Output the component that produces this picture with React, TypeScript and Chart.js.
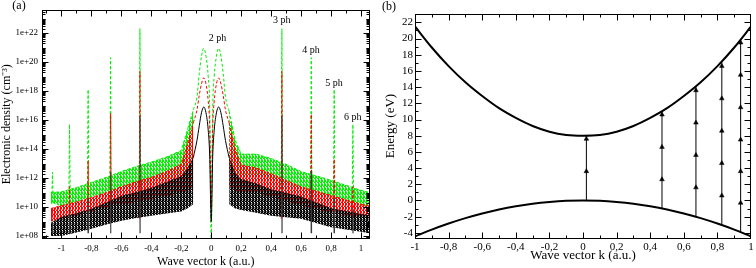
import React, { useEffect, useRef } from "react";
import { Chart, registerables } from "chart.js";

Chart.register(...registerables);

const SERIF = '"Liberation Serif", "Times New Roman", serif';

// ---------------- Panel (a): electronic density (log10 of cm^-3) vs k ----------------
const densityTickK = [-1, -0.8, -0.6, -0.4, -0.2, 0, 0.2, 0.4, 0.6, 0.8, 1];
const densityTickExp = [8, 10, 12, 14, 16, 18, 20, 22];

const bandKLeft = [-1.07, -1.0, -0.9, -0.8, -0.7, -0.6, -0.5, -0.4, -0.3, -0.2, -0.16, -0.12];
const greenTopLeft = [11.0, 11.05, 11.35, 11.7, 12.05, 12.45, 12.8, 13.1, 13.45, 13.9, 15.3, 16.7];
const greenBottomLeft = [10.3, 10.05, 10.35, 10.7, 11.0, 11.3, 11.5, 11.75, 11.95, 12.1, 12.3, 12.7];
const redTopLeft = [9.9, 10.1, 10.35, 10.65, 11.0, 11.4, 11.75, 12.05, 12.45, 12.95, 14.3, 15.8];
const redBottomLeft = [9.0, 9.2, 9.4, 9.7, 9.95, 10.2, 10.35, 10.55, 10.75, 11.0, 11.1, 11.3];
const blackTopLeft = [8.9, 9.3, 9.55, 9.85, 10.3, 10.75, 11.0, 11.3, 11.7, 12.1, 12.6, 13.4];
const blackBottomLeft = [8.0, 8.0, 8.25, 8.5, 8.8, 9.05, 9.25, 9.4, 9.55, 9.7, 9.9, 10.2];

const bandKRight = [0.12, 0.16, 0.2, 0.3, 0.4, 0.5, 0.6, 0.7, 0.8, 0.9, 1.0, 1.06];
const greenTopRight = [16.6, 14.6, 13.65, 13.65, 13.35, 12.95, 12.45, 12.15, 11.85, 11.5, 11.15, 11.0];
const greenBottomRight = [12.7, 12.3, 12.2, 12.2, 12.0, 11.6, 11.3, 11.0, 10.7, 10.4, 10.1, 10.0];
const redTopRight = [15.8, 14.0, 12.9, 12.7, 12.3, 11.85, 11.4, 11.1, 10.8, 10.5, 10.2, 10.1];
const redBottomRight = [11.4, 11.1, 11.0, 11.0, 10.7, 10.4, 10.1, 9.85, 9.6, 9.45, 9.3, 9.2];
const blackTopRight = [13.4, 12.3, 11.9, 11.6, 11.2, 10.95, 10.7, 10.3, 9.9, 9.7, 9.5, 9.4];
const blackBottomRight = [10.2, 9.9, 9.8, 9.6, 9.4, 9.3, 9.2, 8.9, 8.6, 8.45, 8.3, 8.2];

const humpK = [-0.12, -0.095, -0.08, -0.065, -0.05, -0.035, -0.02, -0.01, 0, 0.01, 0.02, 0.035, 0.05, 0.065, 0.08, 0.095, 0.12];
const greenHump = [16.7, 17.6, 19.2, 20.4, 20.95, 20.4, 19.0, 16.8, 7.85, 16.8, 19.0, 20.4, 20.95, 20.4, 19.2, 17.6, 16.6];
const redHump = [15.8, 16.7, 17.7, 18.5, 18.9, 18.5, 17.3, 15.5, 10.0, 15.5, 17.3, 18.5, 18.9, 18.5, 17.7, 16.7, 15.8];
const blackHump = [13.4, 14.6, 15.6, 16.5, 16.9, 16.5, 15.3, 13.5, 9.0, 13.5, 15.3, 16.5, 16.9, 16.5, 15.6, 14.6, 13.4];

const spikeK = [-1.06, -0.946, -0.822, -0.672, -0.476, 0.472, 0.668, 0.821, 0.946];
const greenSpikeTop = [12.4, 15.7, 18.1, 20.3, 22.3, 22.3, 20.3, 18.1, 15.7];
const redSpikeTop = [9.9, 11.4, 13.2, 16.45, 19.35, 19.35, 16.4, 13.3, 11.4];
const blackSpikeTop = [8.9, 9.9, 10.6, 12.4, 16.3, 16.3, 12.5, 10.6, 9.9];
const greenSpikeFloor = 10.2;
const redSpikeFloor = 9.2;
const blackSpikeFloor = 8.2;

const photonLabels = ["2 ph", "3 ph", "4 ph", "5 ph", "6 ph"];
const photonLabelK = [0.042, 0.471, 0.667, 0.82, 0.945];
const photonLabelExp = [21.63, 22.9, 20.83, 18.53, 16.19];

// ---------------- Panel (b): band structure ----------------
const energyTickK = [-1, -0.8, -0.6, -0.4, -0.2, 0, 0.2, 0.4, 0.6, 0.8, 1];
const energyTickE = [-4, -2, 0, 2, 4, 6, 8, 10, 12, 14, 16, 18, 20, 22];

const bandK = [-1, -0.9, -0.8, -0.7, -0.6, -0.5, -0.4, -0.3, -0.2, -0.1, 0, 0.1, 0.2, 0.3, 0.4, 0.5, 0.6, 0.7, 0.8, 0.9, 1];
const conductionE = [21.5, 18.9, 16.6, 14.6, 12.9, 11.4, 10.2, 9.2, 8.5, 8.1, 8.0, 8.1, 8.5, 9.2, 10.2, 11.4, 12.9, 14.6, 16.6, 18.9, 21.5];
const valenceE = [-4.45, -3.6, -2.85, -2.18, -1.6, -1.11, -0.71, -0.4, -0.18, -0.04, 0, -0.04, -0.18, -0.4, -0.71, -1.11, -1.6, -2.18, -2.85, -3.6, -4.45];

const arrowK = [0.02, 0.47, 0.672, 0.826, 0.938];
const arrowFromE = [0, -1.0, -2.0, -3.0, -3.9];
const arrowToE = [8.0, 11.0, 14.1, 17.1, 19.8];
const arrowHeadE = [
  [3.6, 7.6],
  [2.6, 6.6, 10.6],
  [1.6, 5.6, 9.6, 13.6],
  [0.6, 4.6, 8.6, 12.6, 16.6],
  [-0.3, 3.6, 7.5, 11.5, 15.5, 19.5],
];

// ---------------- helpers ----------------
const fmtK = (v: number) => {
  if (Math.abs(v) < 1e-9) return "0";
  if (Number.isInteger(v)) return String(v);
  return v.toFixed(1).replace(".", ",");
};

const logPts = (ks: number[], vals: number[]) => ks.map((k, i) => ({ x: k, y: Math.pow(10, vals[i]) }));

// texture imitating the dense oscillation lines of the bands
function stripePattern(color: string, cells: number[][]): any {
  const c = document.createElement("canvas");
  c.width = cells[0].length;
  c.height = cells.length;
  const g = c.getContext("2d") as CanvasRenderingContext2D;
  g.fillStyle = color;
  cells.forEach((row, y) =>
    row.forEach((a, x) => {
      if (a > 0) {
        g.globalAlpha = a;
        g.fillRect(x, y, 1, 1);
      }
    })
  );
  return g.createPattern(c, "repeat");
}

type TickSpec = { xMajor: number[]; xMinor: number[]; yMajor: number[]; yMinor: number[] };

function framePlugin(spec: TickSpec, majorLen: number, minorLen: number) {
  return {
    id: "frameTicks",
    afterDatasetsDraw(chart: any) {
      const { ctx, chartArea: a, scales } = chart;
      const xs = scales.x;
      const ys = scales.y;
      const L = Math.round(a.left) + 0.5;
      const R = Math.round(a.right) - 0.5;
      const T = Math.round(a.top) + 0.5;
      const B = Math.round(a.bottom) - 0.5;
      ctx.save();
      ctx.strokeStyle = "#000";
      ctx.lineWidth = 1;
      ctx.beginPath();
      const xt = (v: number, len: number) => {
        const p = Math.round(xs.getPixelForValue(v)) + 0.5;
        if (p < L - 0.1 || p > R + 0.1) return;
        ctx.moveTo(p, B);
        ctx.lineTo(p, B - len);
        ctx.moveTo(p, T);
        ctx.lineTo(p, T + len);
      };
      const yt = (v: number, len: number) => {
        const p = Math.round(ys.getPixelForValue(v)) + 0.5;
        if (p < T - 0.1 || p > B + 0.1) return;
        ctx.moveTo(L, p);
        ctx.lineTo(L + len, p);
        ctx.moveTo(R, p);
        ctx.lineTo(R - len, p);
      };
      spec.xMajor.forEach((v) => xt(v, majorLen));
      spec.xMinor.forEach((v) => xt(v, minorLen));
      spec.yMajor.forEach((v) => yt(v, majorLen));
      spec.yMinor.forEach((v) => yt(v, minorLen));
      ctx.stroke();
      ctx.strokeRect(L, T, R - L, B - T);
      ctx.restore();
    },
  };
}

function textPlugin(draw: (chart: any) => void) {
  return { id: "texts", afterDraw: draw };
}

// ---------------- chart configs ----------------
function densityConfig(): any {
  const GREEN = "#00ee00";
  const RED = "#ff0000";
  const BLACK = "#000000";
  const greenFill = stripePattern("#00f000", [
    [1, 1, 0],
    [1, 1, 0.4],
    [1, 0, 1],
    [1, 0.5, 0],
  ]);
  const redFill = stripePattern("#ff0000", [
    [1, 1, 0],
    [1, 0.5, 0.4],
    [1, 0, 1],
    [1, 1, 0],
  ]);
  const blackFill = stripePattern("#000000", [
    [1, 1, 0.3],
    [1, 0.6, 1],
    [1, 1, 0],
    [0.8, 1, 0.6],
  ]);
  const datasets: any[] = [];
  const band = (ks: number[], top: number[], bottom: number[], color: string, fillColor: any, dash: number[], order: number) => {
    datasets.push({
      data: logPts(ks, top),
      borderColor: color,
      borderWidth: 1,
      borderDash: dash,
      backgroundColor: fillColor,
      fill: "+1",
      pointRadius: 0,
      order,
    });
    datasets.push({ data: logPts(ks, bottom), borderColor: "rgba(0,0,0,0)", borderWidth: 0, pointRadius: 0, fill: false, order });
  };
  const hump = (vals: number[], color: string, dash: number[], order: number) => {
    datasets.push({
      data: logPts(humpK, vals),
      borderColor: color,
      borderWidth: 1,
      borderDash: dash,
      pointRadius: 0,
      fill: false,
      cubicInterpolationMode: "monotone",
      order,
    });
  };
  const spikes = (tops: number[], floor: number, color: string, dash: number[], hw: number, width: number, order: number) => {
    const d: any[] = [];
    spikeK.forEach((k, i) => {
      d.push({ x: k - hw, y: Math.pow(10, floor) });
      d.push({ x: k, y: Math.pow(10, tops[i]) });
      d.push({ x: k + hw, y: Math.pow(10, floor) });
      d.push({ x: k + hw, y: null });
    });
    datasets.push({ data: d, borderColor: color, borderWidth: width, borderDash: dash, pointRadius: 0, fill: false, spanGaps: false, order });
  };

  band(bandKLeft, greenTopLeft, greenBottomLeft, GREEN, greenFill, [3, 2], 9);
  band(bandKRight, greenTopRight, greenBottomRight, GREEN, greenFill, [3, 2], 9);
  hump(greenHump, GREEN, [3, 2], 8);
  spikes(greenSpikeTop, greenSpikeFloor, GREEN, [3, 2], 0.005, 1, 7);
  band(bandKLeft, redTopLeft, redBottomLeft, RED, redFill, [3, 2], 6);
  band(bandKRight, redTopRight, redBottomRight, RED, redFill, [3, 2], 6);
  hump(redHump, RED, [3, 2], 5);
  spikes(redSpikeTop, redSpikeFloor, RED, [3, 2], 0.004, 1, 4);
  band(bandKLeft, blackTopLeft, blackBottomLeft, "rgba(0,0,0,0.6)", blackFill, [], 3);
  band(bandKRight, blackTopRight, blackBottomRight, "rgba(0,0,0,0.6)", blackFill, [], 3);
  hump(blackHump, BLACK, [], 2);
  spikes(blackSpikeTop, blackSpikeFloor, "rgba(60,60,60,0.9)", [], 0.002, 0.8, 1);

  const xMinor: number[] = [];
  for (let i = -11; i <= 10; i++) if (i % 2 !== 0) xMinor.push(i / 10);
  const yMinor: number[] = [];
  for (let n = 7; n <= 23; n++) {
    for (let m = 1; m <= 9; m++) {
      if (m === 1 && n % 2 === 0) continue;
      yMinor.push(m * Math.pow(10, n));
    }
  }
  const yMajor = densityTickExp.map((e) => Math.pow(10, e));

  return {
    type: "line",
    data: { datasets },
    options: {
      animation: false,
      responsive: false,
      events: [],
      layout: { padding: { left: 0, right: 8.5, top: 10, bottom: 0 } },
      plugins: { legend: { display: false }, tooltip: { enabled: false } },
      scales: {
        x: {
          type: "linear",
          min: -1.13,
          max: 1.057,
          afterBuildTicks: (s: any) => {
            s.ticks = densityTickK.map((v) => ({ value: v }));
          },
          afterFit: (s: any) => {
            s.height = 29.5;
          },
          grid: { display: false, drawTicks: false },
          border: { display: false },
          ticks: {
            font: { family: SERIF, size: 9 },
            color: "#000",
            padding: 5,
            maxRotation: 0,
            minRotation: 0,
            autoSkip: false,
            callback: (v: any) => fmtK(Number(v)),
          },
          title: { display: true, text: "Wave vector k (a.u.)", font: { family: SERIF, size: 12, lineHeight: 1 }, color: "#000", padding: 0 },
        },
        y: {
          type: "logarithmic",
          min: Math.pow(10, 7.83),
          max: Math.pow(10, 23.59),
          afterBuildTicks: (s: any) => {
            s.ticks = yMajor.map((v) => ({ value: v }));
          },
          afterFit: (s: any) => {
            s.width = 42;
          },
          grid: { display: false, drawTicks: false },
          border: { display: false },
          ticks: {
            font: { family: SERIF, size: 9 },
            color: "#000",
            padding: 4,
            autoSkip: false,
            callback: (v: any) => {
              const e = Math.round(Math.log10(Number(v)));
              return "1e+" + String(e).padStart(2, "0");
            },
          },
          title: { display: true, text: "Electronic density (cm⁻³)", font: { family: SERIF, size: 12, lineHeight: 1 }, color: "#000", padding: 1 },
        },
      },
    },
    plugins: [
      framePlugin({ xMajor: densityTickK, xMinor, yMajor, yMinor }, 6, 3),
      textPlugin((chart: any) => {
        const { ctx, scales } = chart;
        ctx.save();
        ctx.fillStyle = "#000";
        ctx.textAlign = "center";
        ctx.textBaseline = "middle";
        ctx.font = `10px ${SERIF}`;
        photonLabels.forEach((t, i) => {
          ctx.fillText(t, scales.x.getPixelForValue(photonLabelK[i]), scales.y.getPixelForValue(Math.pow(10, photonLabelExp[i])));
        });
        ctx.font = `12px ${SERIF}`;
        ctx.fillText("(a)", 19, 6);
        ctx.restore();
      }),
    ],
  };
}

function energyConfig(): any {
  const arrows: any[] = [];
  arrowK.forEach((k, i) => {
    arrows.push({ x: k, y: arrowFromE[i] });
    arrows.push({ x: k, y: arrowToE[i] });
    arrows.push({ x: k, y: null });
  });
  const heads: any[] = [];
  arrowK.forEach((k, i) => arrowHeadE[i].forEach((e) => heads.push({ x: k, y: e })));

  const xMinor: number[] = [];
  for (let i = -9; i <= 9; i += 2) xMinor.push(i / 10);
  const yMinor: number[] = [];
  for (let e = -3; e <= 23; e += 2) yMinor.push(e);

  return {
    type: "line",
    data: {
      datasets: [
        { data: bandK.map((k, i) => ({ x: k, y: conductionE[i] })), borderColor: "#000", borderWidth: 2, pointRadius: 0, cubicInterpolationMode: "monotone", fill: false },
        { data: bandK.map((k, i) => ({ x: k, y: valenceE[i] })), borderColor: "#000", borderWidth: 2, pointRadius: 0, cubicInterpolationMode: "monotone", fill: false },
        { data: arrows, borderColor: "#000", borderWidth: 1, pointRadius: 0, spanGaps: false, fill: false },
        {
          data: heads,
          showLine: false,
          pointStyle: "triangle",
          pointRadius: 2.7,
          pointBackgroundColor: "#000",
          pointBorderColor: "#000",
          pointBorderWidth: 0.5,
        },
      ],
    },
    options: {
      animation: false,
      responsive: false,
      events: [],
      layout: { padding: { left: 0, right: 3.5, top: 13.5, bottom: 0 } },
      plugins: { legend: { display: false }, tooltip: { enabled: false } },
      scales: {
        x: {
          type: "linear",
          min: -1,
          max: 1,
          afterBuildTicks: (s: any) => {
            s.ticks = energyTickK.map((v) => ({ value: v }));
          },
          afterFit: (s: any) => {
            s.height = 29.5;
          },
          grid: { display: false, drawTicks: false },
          border: { display: false },
          ticks: {
            font: { family: SERIF, size: 11 },
            color: "#000",
            padding: 2.2,
            maxRotation: 0,
            minRotation: 0,
            autoSkip: false,
            callback: (v: any) => fmtK(Number(v)),
          },
          title: { display: true, text: "Wave vector k (a.u.)", font: { family: SERIF, size: 13, lineHeight: 1 }, color: "#000", padding: 5.5 },
        },
        y: {
          type: "linear",
          min: -4.7,
          max: 23.1,
          afterBuildTicks: (s: any) => {
            s.ticks = energyTickE.map((v) => ({ value: v }));
          },
          afterFit: (s: any) => {
            s.width = 37;
          },
          grid: { display: false, drawTicks: false },
          border: { display: false },
          ticks: { font: { family: SERIF, size: 11 }, color: "#000", padding: 2, autoSkip: false, callback: (v: any) => String(v) },
          title: { display: true, text: "Energy (eV)", font: { family: SERIF, size: 13, lineHeight: 1 }, color: "#000", padding: 6.5 },
        },
      },
    },
    plugins: [
      framePlugin({ xMajor: energyTickK, xMinor, yMajor: energyTickE, yMinor }, 6, 3),
      textPlugin((chart: any) => {
        const { ctx } = chart;
        ctx.save();
        ctx.fillStyle = "#000";
        ctx.textAlign = "center";
        ctx.textBaseline = "middle";
        ctx.font = `12px ${SERIF}`;
        ctx.fillText("(b)", 11, 7);
        ctx.restore();
      }),
    ],
  };
}

function ChartCanvas({ make, left }: { make: () => any; left: number }) {
  const ref = useRef<HTMLCanvasElement | null>(null);
  useEffect(() => {
    if (!ref.current) return;
    const chart = new Chart(ref.current, make());
    return () => chart.destroy();
  }, [make]);
  return (
    <div style={{ position: "absolute", left, top: 0, width: 378, height: 268 }}>
      <canvas ref={ref} width={378} height={268} style={{ display: "block", width: 378, height: 268 }} />
    </div>
  );
}

export default function App() {
  return (
    <div style={{ position: "fixed", left: 0, top: 0, width: 756, height: 268, background: "#fff", overflow: "hidden" }}>
      <ChartCanvas make={densityConfig} left={0} />
      <ChartCanvas make={energyConfig} left={378} />
    </div>
  );
}
